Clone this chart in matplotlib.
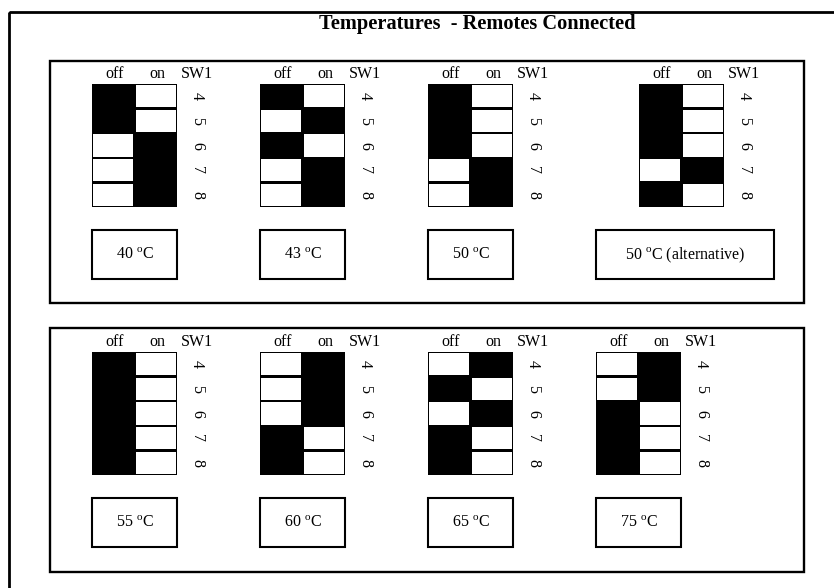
import matplotlib.pyplot as plt
from matplotlib.patches import Rectangle

plt.rcParams['font.family'] = ['Liberation Serif', 'DejaVu Serif']
plt.rcParams['mathtext.fontset'] = 'custom'
plt.rcParams['mathtext.rm'] = 'Liberation Serif'

# switch settings for SW1 positions 4..8 (1 = lever on "on" side)
switch_numbers = ['4', '5', '6', '7', '8']
temps_top = ['40', '43', '50', '50']
notes_top = ['', '', '', ' (alternative)']
states_top = [[0, 0, 1, 1, 1],
              [0, 1, 0, 1, 1],
              [0, 0, 0, 1, 1],
              [0, 0, 0, 1, 0]]
temps_bottom = ['55', '60', '65', '75']
notes_bottom = ['', '', '', '']
states_bottom = [[0, 0, 0, 0, 0],
                 [1, 1, 1, 0, 0],
                 [1, 0, 1, 0, 0],
                 [1, 1, 0, 0, 0]]

fig = plt.figure(figsize=(8.34, 5.88), dpi=100)
ax = fig.add_axes([0, 0, 1, 1])
ax.set_xlim(0, 834)
ax.set_ylim(588, 0)
ax.axis('off')

# outer frame (runs off the right and bottom edge)
ax.add_patch(Rectangle((9, 12), 840, 600, fill=False, lw=2, ec='black'))
ax.text(477, 24, 'Temperatures  - Remotes Connected', ha='center', va='center',
        fontsize=14.7, fontweight='bold')

BW, BH = 85, 123   # switch block size
CELL = BH / 5


def draw_switch(x0, y0, states):
    ax.add_patch(Rectangle((x0, y0), BW, BH, fc='black', ec='black', lw=0))
    half = BW / 2
    for i, s in enumerate(states):
        wx = x0 + half if s == 0 else x0
        ax.add_patch(Rectangle((wx + 1.2, y0 + i * CELL + 1.2), half - 2.4, CELL - 2.4,
                               fc='white', ec='none'))
        ax.text(x0 + 105, y0 + (i + 0.5) * CELL, switch_numbers[i], rotation=-90,
                ha='center', va='center', fontsize=11.5)
    ax.text(x0 + 23, y0 - 10, 'off', ha='center', va='center', fontsize=11.5)
    ax.text(x0 + 65, y0 - 10, 'on', ha='center', va='center', fontsize=11.5)
    ax.text(x0 + 105, y0 - 10, 'SW1', ha='center', va='center', fontsize=11.5)


def draw_label(x0, y0, w, temp, note):
    ax.add_patch(Rectangle((x0, y0), w, 49, fill=False, ec='black', lw=1.5))
    ax.text(x0 + w / 2, y0 + 25, temp + r' $^{\mathrm{o}}$C' + note,
            ha='center', va='center', fontsize=11.5)


# top group
ax.add_patch(Rectangle((50, 61), 754, 242, fill=False, ec='black', lw=1.7))
sw_x_top = [92, 260, 428, 639]
lab_x_top = [92, 260, 428, 596]
lab_w_top = [85, 85, 85, 178]
for k in range(4):
    draw_switch(sw_x_top[k], 84, states_top[k])
    draw_label(lab_x_top[k], 230, lab_w_top[k], temps_top[k], notes_top[k])

# bottom group
ax.add_patch(Rectangle((50, 328), 754, 244, fill=False, ec='black', lw=1.7))
sw_x_bot = [92, 260, 428, 596]
for k in range(4):
    draw_switch(sw_x_bot[k], 352, states_bottom[k])
    draw_label(sw_x_bot[k], 498, 85, temps_bottom[k], notes_bottom[k])

fig.savefig('out.png', dpi=100)
